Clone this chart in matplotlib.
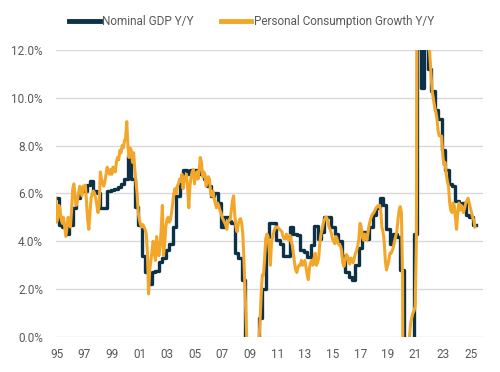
"""
Nominal GDP vs personal consumption growth, year over year (1995-2025)
"""
import numpy as np
import matplotlib
matplotlib.use("Agg")
import matplotlib.pyplot as plt

#########################################################
# Data
#########################################################

start_year = 1995

# nominal GDP y/y, quarterly, 1995Q1 .. 2025Q2
gdp_yoy = [
    5.8, 4.7, 4.6, 4.3,     # 1995
    4.7, 5.4, 5.8, 6.1,     # 1996
    6.1, 6.35, 6.5, 6.1,    # 1997
    6.0, 5.4, 5.4, 6.1,     # 1998
    6.15, 6.2, 6.25, 6.4,   # 1999
    6.6, 7.55, 6.6, 5.45,   # 2000
    4.7, 3.4, 2.7, 2.2,     # 2001
    2.7, 2.75, 3.15, 3.3,   # 2002
    3.65, 3.9, 4.6, 5.9,    # 2003
    6.5, 7.0, 6.8, 7.0,     # 2004
    7.0, 6.9, 6.8, 6.6,     # 2005
    6.3, 5.9, 6.0, 5.6,     # 2006
    4.6, 5.0, 4.85, 4.75,   # 2007
    3.5, 3.3, 2.4, -0.5,    # 2008
    -2.5, -3.2, -2.0, 0.8,  # 2009
    2.0, 4.2, 4.75, 4.75,   # 2010
    4.05, 3.9, 3.4, 3.4,    # 2011
    4.6, 4.3, 4.25, 3.65,   # 2012
    3.55, 3.35, 3.85, 4.65, # 2013
    4.1, 4.4, 5.0, 5.0,     # 2014
    4.6, 4.3, 4.0, 3.4,     # 2015
    2.7, 2.5, 2.4, 3.0,     # 2016
    3.7, 4.4, 4.1, 4.6,     # 2017
    5.1, 5.4, 5.8, 5.5,     # 2018
    4.5, 3.9, 4.3, 4.2,     # 2019
    2.8, -8.0, -1.5, -0.5,  # 2020
    4.3, 16.5, 10.4, 12.5,  # 2021
    11.2, 10.3, 9.5, 9.1,   # 2022
    7.8, 7.0, 6.4, 6.3,     # 2023
    5.7, 5.45, 5.6, 5.1,    # 2024
    5.0, 4.7,               # 2025
]

# personal consumption y/y, monthly, Jan 1995 .. Jun 2025
pce_yoy = [
    5.8, 4.8, 5.0, 5.5, 5.3, 4.9, 4.75, 5.0, 4.6, 4.2, 4.6, 5.0,       # 1995
    4.7, 4.6, 5.3, 6.2, 6.4, 5.9, 5.5, 5.7, 6.0, 6.3, 6.1, 5.9,        # 1996
    6.3, 6.3, 6.35, 5.6, 4.9, 4.5, 5.2, 5.8, 6.0, 6.1, 6.0, 5.8,       # 1997
    5.5, 5.2, 5.5, 6.9, 6.6, 6.4, 6.3, 6.5, 6.8, 7.1, 6.9, 6.8,        # 1998
    7.0, 6.8, 7.1, 7.0, 6.9, 7.3, 7.5, 7.4, 7.8, 7.7, 8.0, 7.9,        # 1999
    8.2, 8.3, 9.0, 8.0, 7.5, 7.9, 7.8, 7.3, 7.7, 7.0, 6.5, 6.0,        # 2000
    5.2, 4.9, 4.7, 4.6, 4.7, 4.6, 4.5, 4.3, 3.5, 1.8, 2.8, 3.2,        # 2001
    3.6, 4.0, 3.5, 3.2, 4.2, 3.7, 3.4, 3.8, 4.5, 5.5, 3.4, 3.9,        # 2002
    4.6, 4.9, 5.0, 4.8, 4.9, 5.2, 5.6, 6.0, 6.2, 6.0, 6.3, 6.4,        # 2003
    6.6, 6.5, 6.8, 6.2, 6.6, 6.7, 6.8, 6.2, 5.4, 6.3, 6.7, 6.9,        # 2004
    7.0, 6.4, 6.8, 6.9, 6.6, 7.0, 7.5, 7.3, 6.7, 6.9, 6.8, 6.3,        # 2005
    6.5, 6.7, 6.6, 6.0, 5.9, 6.1, 5.8, 5.6, 5.4, 5.6, 5.5, 5.3,        # 2006
    5.2, 5.0, 4.9, 4.8, 4.7, 4.5, 4.8, 4.9, 4.9, 5.3, 5.7, 5.9,        # 2007
    5.1, 4.6, 4.4, 4.7, 4.9, 4.95, 4.75, 4.3, 3.2, 1.8, 0.5, -0.8,     # 2008
    -1.5, -1.8, -2.0, -2.2, -2.3, -2.0, -1.8, -1.2, -0.5, -0.2, 0.7, 1.8,  # 2009
    2.6, 2.6, 3.3, 4.1, 4.3, 4.2, 3.6, 3.0, 4.0, 4.2, 4.4, 4.55,       # 2010
    4.6, 4.6, 4.55, 4.5, 4.45, 4.4, 4.2, 4.1, 4.1, 4.3, 4.1, 4.05,     # 2011
    4.25, 4.0, 3.85, 3.5, 3.1, 2.8, 2.7, 2.9, 3.0, 3.0, 3.2, 3.0,      # 2012
    3.1, 3.2, 2.9, 2.6, 2.4, 2.9, 3.1, 3.2, 3.0, 3.3, 3.5, 3.0,        # 2013
    3.1, 3.3, 3.9, 4.3, 4.5, 4.75, 4.9, 5.0, 5.0, 4.85, 4.6, 4.5,      # 2014
    4.35, 4.1, 4.0, 3.9, 4.2, 4.1, 3.9, 3.85, 3.8, 3.6, 3.1, 2.95,     # 2015
    3.2, 3.45, 3.4, 3.2, 3.05, 3.3, 3.25, 3.1, 3.3, 3.5, 3.6, 3.8,     # 2016
    4.1, 4.75, 4.6, 4.2, 4.05, 4.3, 4.2, 4.05, 4.4, 4.7, 4.9, 5.05,    # 2017
    5.15, 5.2, 5.3, 5.4, 5.45, 5.5, 5.5, 5.3, 4.6, 4.4, 4.0, 3.2,      # 2018
    2.8, 3.0, 3.2, 3.5, 3.5, 3.6, 3.77, 4.0, 4.2, 4.4, 4.9, 5.3,       # 2019
    5.45, 5.2, 2.5, -12.0, -8.0, -4.0, -2.5, -1.0, 0.0, 0.55, 0.8, 1.0,  # 2020
    1.1, 1.3, 4.0, 20.0, 16.0, 14.0, 13.0, 13.0, 13.0, 13.0, 13.0, 13.0,  # 2021
    12.5, 12.2, 11.6, 10.8, 10.2, 9.9, 9.6, 9.4, 9.1, 8.6, 8.4, 8.4,   # 2022
    8.4, 7.6, 7.2, 7.3, 6.8, 6.5, 6.3, 5.6, 5.3, 5.2, 5.6, 5.5,        # 2023
    5.0, 4.5, 5.2, 5.6, 5.3, 5.5, 5.4, 5.2, 5.4, 5.6, 5.7, 5.8,        # 2024
    5.6, 5.4, 5.2, 5.0, 4.9, 4.6,                                      # 2025
]

year_ticks = list(range(1995, 2026, 2))
year_labels = [f"{y % 100:02d}" for y in year_ticks]
pct_ticks = [0, 2, 4, 6, 8, 10, 12]

#########################################################
# Style
#########################################################

COLOR_GDP = "#0D3247"
COLOR_PCE = "#F2A72A"
COLOR_GRID = "#D9D9D9"
COLOR_TEXT = "#595959"

plt.rcParams["font.family"] = ["Roboto", "DejaVu Sans"]

#########################################################
# Chart
#########################################################

fig = plt.figure(figsize=(5.0, 3.72), dpi=100)
ax = fig.add_axes([0.111, 0.094, 0.855, 0.772])

# x positions: decimal years
gdp_x = start_year + np.arange(len(gdp_yoy) + 1) / 4
gdp_y = gdp_yoy + [gdp_yoy[-1]]
pce_x = start_year + np.arange(len(pce_yoy)) / 12

ax.plot(gdp_x, gdp_y, drawstyle="steps-post", color=COLOR_GDP,
        linewidth=2.4, label="Nominal GDP Y/Y", zorder=3)
ax.plot(pce_x, pce_yoy, color=COLOR_PCE, linewidth=2.2,
        label="Personal Consumption Growth Y/Y", zorder=4)

ax.set_xlim(1995, 2026)
ax.set_ylim(0, 12)
ax.set_xticks([y + 0.1 for y in year_ticks])
ax.set_xticklabels(year_labels)
ax.set_yticks(pct_ticks)
ax.set_yticklabels([f"{v:.1f}%" for v in pct_ticks])

ax.grid(axis="y", color=COLOR_GRID, linewidth=1.0, zorder=0)
ax.set_axisbelow(True)
for side in ["top", "right", "left", "bottom"]:
    ax.spines[side].set_visible(False)
ax.tick_params(axis="both", length=0, labelsize=8.5, colors=COLOR_TEXT)
ax.tick_params(axis="y", pad=9)
ax.tick_params(axis="x", pad=8)

leg = fig.legend(loc="center", bbox_to_anchor=(0.503, 0.942), ncol=2,
                 frameon=False, fontsize=8.5, handlelength=2.6,
                 handletextpad=0.2, columnspacing=2.3)
for line in leg.get_lines():
    line.set_linewidth(3.5)
for txt in leg.get_texts():
    txt.set_color(COLOR_TEXT)

fig.savefig("out.png", dpi=100)
